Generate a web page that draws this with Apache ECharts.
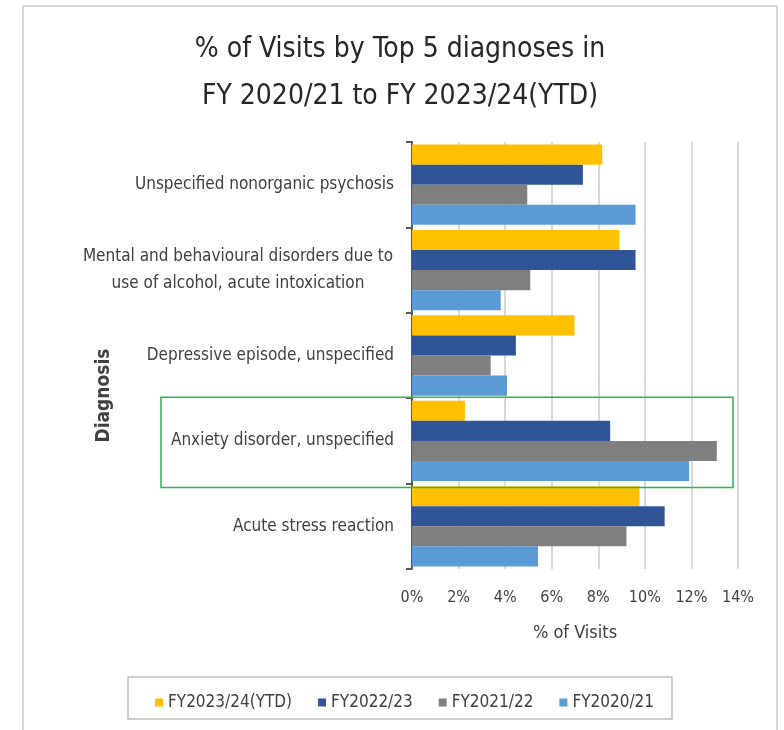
<!DOCTYPE html>
<html>
<head>
<meta charset="utf-8">
<script src="https://cdn.jsdelivr.net/npm/echarts@6/dist/echarts.min.js"></script>
<style>
html,body{margin:0;padding:0;background:#fff;}
#chart{width:784px;height:730px;}
</style>
</head>
<body>
<div id="chart"></div>
<script>
var FONT = "'Liberation Sans Narrow', 'DejaVu Sans Condensed', 'Liberation Sans', sans-serif";

var categories = [
  'Unspecified nonorganic psychosis',
  'Mental and behavioural disorders due to\nuse of alcohol, acute intoxication',
  'Depressive episode, unspecified',
  'Anxiety disorder, unspecified',
  'Acute stress reaction'
];
var seriesNames = ['FY2023/24(YTD)', 'FY2022/23', 'FY2021/22', 'FY2020/21'];
var fy2023_24 = [8.17, 8.91, 6.98, 2.27, 9.77];
var fy2022_23 = [7.34, 9.60, 4.46, 8.51, 10.85];
var fy2021_22 = [4.95, 5.08, 3.38, 13.09, 9.21];
var fy2020_21 = [9.60, 3.81, 4.08, 11.90, 5.41];
var xTicks = [0, 2, 4, 6, 8, 10, 12, 14];
var colors = ['#FFC000', '#2F5597', '#7F7F7F', '#5B9BD5'];
var highlighted = 'Anxiety disorder, unspecified';

var chart = echarts.init(document.getElementById('chart'), null, {renderer: 'canvas'});

function mkSeries(name, data, color) {
  return {
    name: name, type: 'bar', data: data,
    barGap: '0%', barCategoryGap: '6%',
    itemStyle: {color: color},
    emphasis: {disabled: true}
  };
}

var option = {
  animation: false,
  backgroundColor: '#ffffff',
  textStyle: {fontFamily: FONT},
  title: {
    text: '% of Visits by Top 5 diagnoses in\nFY 2020/21 to FY 2023/24(YTD)',
    left: 395, textAlign: 'center', top: 21,
    textStyle: {fontFamily: FONT, fontSize: 28, fontWeight: 'normal', color: '#262626', lineHeight: 47}
  },
  grid: {left: 412, right: 46, top: 142, bottom: 161, containLabel: false},
  legend: {
    data: seriesNames,
    left: 150, top: 689,
    itemWidth: 8, itemHeight: 8, itemGap: 26,
    icon: 'rect',
    textStyle: {fontFamily: FONT, fontSize: 17, color: '#404040'}
  },
  xAxis: {
    type: 'value', min: xTicks[0], max: xTicks[xTicks.length - 1], interval: 2,
    axisLine: {show: false}, axisTick: {show: false},
    splitLine: {show: true, lineStyle: {color: '#d9d9d9', width: 2}},
    axisLabel: {formatter: '{value}%', margin: 21, fontFamily: FONT, fontSize: 16, color: '#404040'},
    name: '% of Visits', nameLocation: 'middle', nameGap: 55,
    nameTextStyle: {fontFamily: FONT, fontSize: 18, color: '#404040'}
  },
  yAxis: {
    type: 'category', data: categories, inverse: true,
    axisLine: {show: true, lineStyle: {color: '#595959', width: 2}},
    axisTick: {show: true, length: 6, lineStyle: {color: '#595959', width: 2}},
    splitLine: {show: false},
    axisLabel: {
      margin: 18, fontFamily: FONT, fontSize: 17, color: '#404040',
      formatter: function (v) {
        if (v.indexOf('\n') >= 0) {
          return v.split('\n').map(function (s) { return '{c|' + s + '}'; }).join('\n');
        }
        return v;
      },
      rich: {c: {width: 312, align: 'center', fontFamily: FONT, fontSize: 17, color: '#404040', lineHeight: 27}}
    },
    name: 'Diagnosis', nameLocation: 'middle', nameGap: 298, nameRotate: 90,
    nameMoveOverlap: false,
    nameTextStyle: {fontFamily: FONT, fontSize: 19, fontWeight: 'bold', color: '#404040', padding: [0, 80, 0, 0]}
  },
  series: [
    mkSeries(seriesNames[0], fy2023_24, colors[0]),
    mkSeries(seriesNames[1], fy2022_23, colors[1]),
    mkSeries(seriesNames[2], fy2021_22, colors[2]),
    mkSeries(seriesNames[3], fy2020_21, colors[3])
  ]
};
chart.setOption(option);

// annotation shapes: outer frame, legend frame, and highlight box derived from the category axis
var cy = chart.convertToPixel({yAxisIndex: 0}, highlighted);
var cy0 = chart.convertToPixel({yAxisIndex: 0}, categories[0]);
var cy1 = chart.convertToPixel({yAxisIndex: 0}, categories[1]);
var band = Math.abs(cy1 - cy0);
chart.setOption({
  graphic: [
    {type: 'rect', silent: true, z: -1, shape: {x: 23, y: 6, width: 754, height: 800},
      style: {fill: null, stroke: '#d9d9d9', lineWidth: 2}},
    {type: 'rect', silent: true, z: -1, shape: {x: 128, y: 677, width: 544, height: 42},
      style: {fill: null, stroke: '#bfbfbf', lineWidth: 1.5}},
    {type: 'rect', silent: true, z: 100, shape: {x: 161, y: cy - band / 2 - 1, width: 572, height: band + 5},
      style: {fill: null, stroke: '#2DB34F', lineWidth: 1.5}}
  ]
});
</script>
</body>
</html>
